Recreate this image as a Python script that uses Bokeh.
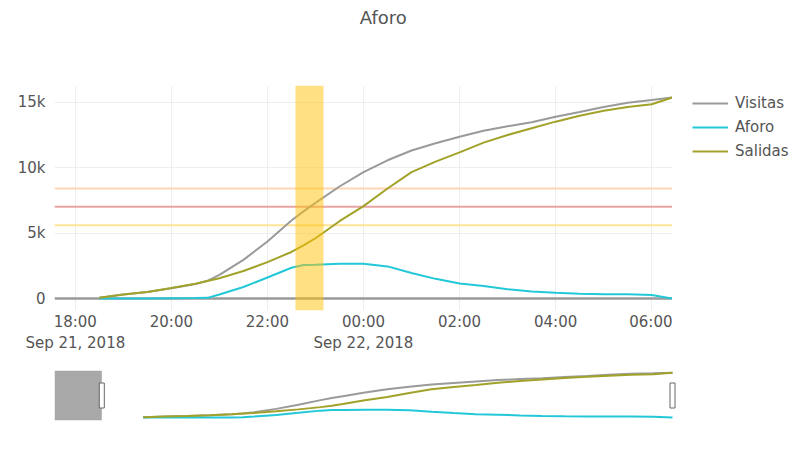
from bokeh.plotting import figure
from bokeh.models import (ColumnDataSource, Span, BoxAnnotation, Legend, LegendItem,
                          FixedTicker, NumeralTickFormatter, Range1d)
from bokeh.core.properties import value
from bokeh.layouts import column, row
from bokeh.embed import file_html
from bokeh.resources import INLINE

# ---------------- data ----------------
times = ["18:30", "19:00", "19:30", "20:00", "20:30", "20:45", "21:00", "21:30",
         "22:00", "22:30", "22:45", "23:00", "23:30", "00:00", "00:30", "01:00",
         "01:30", "02:00", "02:30", "03:00", "03:30", "04:00", "04:30", "05:00",
         "05:30", "06:00", "06:26"]
visitas = [50, 300, 500, 780, 1100, 1350, 1800, 2950,
           4350, 5950, 6650, 7300, 8550, 9650, 10550, 11300,
           11850, 12350, 12800, 13150, 13450, 13870, 14230, 14620,
           14950, 15150, 15350]
aforo = [0, 0, 0, 20, 30, 50, 300, 880,
         1600, 2350, 2550, 2580, 2650, 2650, 2450, 1950,
         1500, 1150, 950, 700, 530, 430, 360, 320,
         330, 260, 0]
salidas = [50, 300, 500, 800, 1120, 1330, 1550, 2100,
           2780, 3550, 4050, 4600, 5900, 7050, 8400, 9650,
           10450, 11150, 11900, 12480, 12990, 13500, 13950, 14330,
           14620, 14830, 15350]

series_names = ["Visitas", "Aforo", "Salidas"]
series_colors = ["#9a9a9a", "#22c8d8", "#a2a22a"]

x_tick_hours = [0, 2, 4, 6, 8, 10, 12]
x_tick_labels = ["18:00\nSep 21, 2018", "20:00", "22:00", "00:00\nSep 22, 2018",
                 "02:00", "04:00", "06:00"]
y_ticks = [0, 5000, 10000, 15000]

threshold_values = [8400, 7000, 5600]
threshold_colors = ["#ffd6b3", "#e8a3a3", "#ffe497"]

highlight_start, highlight_end = "22:35", "23:10"
view_start, view_end = "17:34", "06:26"
slider_start = "16:30"
title_text = "Aforo"

FONT = "DejaVu Sans"
TXT = "#555555"


def to_hours(t):
    h, m = map(int, t.split(":"))
    v = h + m / 60.0
    if v < 12:
        v += 24
    return v - 18.0


hours = [to_hours(t) for t in times]
src = ColumnDataSource(dict(x=hours, Visitas=visitas, Aforo=aforo, Salidas=salidas))

x0, x1 = to_hours(view_start), to_hours(view_end)

# ---------------- title strip ----------------
tf = figure(width=800, height=40, x_range=Range1d(0, 1), y_range=Range1d(0, 40),
            output_backend="svg", toolbar_location=None,
            x_axis_location=None, y_axis_location=None,
            min_border_left=54, min_border_right=128, min_border_top=0, min_border_bottom=0)
tf.outline_line_color = None
tf.grid.visible = False
tf.text(x=[0.532], y=[23], text=[title_text], text_font=value(FONT), text_font_size="18px",
        text_color=TXT, text_align="center", text_baseline="middle")

# ---------------- main plot ----------------
p = figure(width=672, height=316, x_range=Range1d(x0, x1), y_range=Range1d(-916, 16260),
           output_backend="svg", toolbar_location=None,
           min_border_left=54, min_border_right=0, min_border_top=45, min_border_bottom=46)
p.outline_line_color = None
p.background_fill_color = "white"
p.border_fill_color = "white"

p.xaxis.ticker = FixedTicker(ticks=x_tick_hours)
p.xaxis.major_label_overrides = dict(zip(x_tick_hours, x_tick_labels))
p.yaxis.ticker = FixedTicker(ticks=y_ticks)
p.yaxis.formatter = NumeralTickFormatter(format="0a")
for ax in (p.xaxis[0], p.yaxis[0]):
    ax.axis_line_color = None
    ax.major_tick_line_color = None
    ax.minor_tick_line_color = None
    ax.major_label_text_font = FONT
    ax.major_label_text_font_size = "15px"
    ax.major_label_text_color = TXT
p.xaxis.major_label_standoff = -4
p.yaxis.major_label_standoff = 3
p.xgrid.ticker = FixedTicker(ticks=x_tick_hours)
p.ygrid.ticker = FixedTicker(ticks=y_ticks)
p.grid.grid_line_color = "#eeeeee"
p.grid.grid_line_width = 1

for v, c in zip(threshold_values, threshold_colors):
    p.add_layout(Span(location=v, dimension="width", line_color=c, line_width=2, level="underlay"))
p.add_layout(Span(location=0, dimension="width", line_color="#9a9a9a", line_width=2.5, level="underlay"))

for name, col in zip(series_names, series_colors):
    p.line("x", name, source=src, line_color=col, line_width=2)

p.add_layout(BoxAnnotation(left=to_hours(highlight_start), right=to_hours(highlight_end),
                           fill_color="#ffc107", fill_alpha=0.5, line_color=None))

# ---------------- legend panel ----------------
lg = figure(width=128, height=316, x_range=Range1d(0, 1), y_range=Range1d(0, 1),
            output_backend="svg", toolbar_location=None,
            x_axis_location=None, y_axis_location=None, min_border=0)
lg.outline_line_color = None
lg.grid.visible = False
leg_renderers = [lg.line(x=[-10, -9], y=[-10, -10], line_color=c, line_width=2)
                 for c in series_colors]
legend = Legend(items=[LegendItem(label=n, renderers=[r]) for n, r in zip(series_names, leg_renderers)],
                location=(20, 149), orientation="vertical")
legend.glyph_width = 36
legend.glyph_height = 20
legend.label_height = 20
legend.label_standoff = 7
legend.spacing = 4
legend.padding = 0
legend.margin = 0
legend.border_line_color = None
legend.background_fill_alpha = 0
legend.label_text_font = FONT
legend.label_text_font_size = "15px"
legend.label_text_color = TXT
lg.add_layout(legend)

# ---------------- range slider ----------------
s = figure(width=800, height=100, x_range=Range1d(to_hours(slider_start), x1 + 0.09),
           y_range=Range1d(-1030, 16090), output_backend="svg", toolbar_location=None,
           x_axis_location=None, y_axis_location=None,
           min_border_left=54, min_border_right=124, min_border_top=14, min_border_bottom=36)
s.frame_align = False
s.outline_line_color = None
s.grid.visible = False
for name, col in zip(series_names, series_colors):
    s.line("x", name, source=src, line_color=col, line_width=2)
s.add_layout(BoxAnnotation(right=x0, fill_color="#a8a8a8", fill_alpha=1, line_color=None,
                           level="underlay"))
s.rect(x=[x0, x1], y=[7530, 7530], width=5, height=25, width_units="screen",
       height_units="screen", fill_color="white", line_color="#666666", line_width=1)

layout = column(tf, row(p, lg), s)
open("out.html", "w").write(file_html(layout, INLINE))
